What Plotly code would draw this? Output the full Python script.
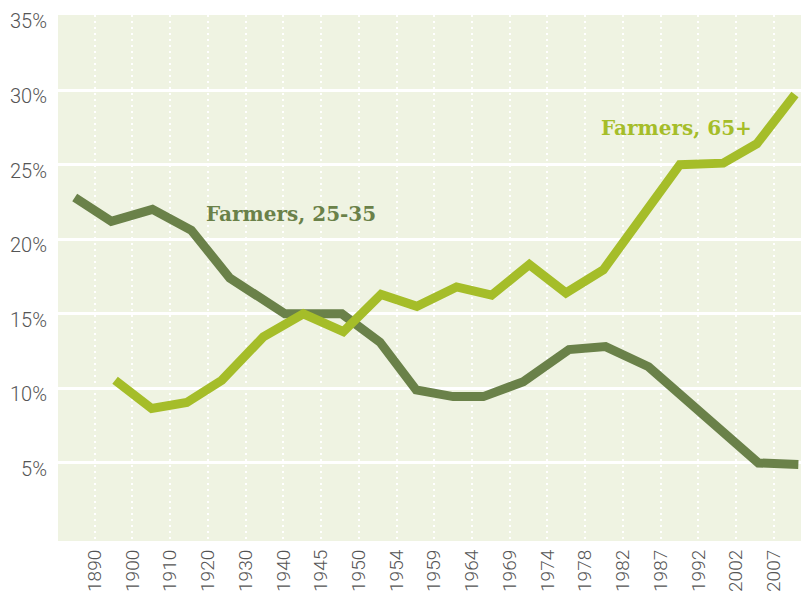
import plotly.graph_objects as go

# Category tick labels (evenly spaced on the x axis, index 0..18)
years = ["1890", "1900", "1910", "1920", "1930", "1940", "1945", "1950", "1954",
         "1959", "1964", "1969", "1974", "1978", "1982", "1987", "1992", "2002", "2007"]

# Farmers aged 25-35 (share %), x positions in category-index units
young_x = [-0.53, 0.44, 1.53, 2.56, 3.58, 5.04, 6.55, 7.56, 8.52, 9.50, 10.30,
           11.36, 12.57, 13.54, 14.68, 17.59, 18.65]
young_y = [22.8, 21.2, 22.0, 20.6, 17.4, 15.0, 15.0, 13.1, 9.9, 9.45, 9.45,
           10.45, 12.6, 12.8, 11.45, 5.0, 4.9]

# Farmers aged 65+ (share %)
old_x = [0.54, 1.51, 2.44, 3.37, 4.47, 5.53, 6.59, 7.59, 8.54, 9.59, 10.52,
         11.52, 12.49, 13.48, 15.51, 16.66, 17.55, 18.56]
old_y = [10.55, 8.65, 9.05, 10.55, 13.45, 15.0, 13.8, 16.3, 15.5, 16.8, 16.25,
         18.3, 16.4, 17.95, 25.0, 25.1, 26.4, 29.7]

y_ticks = [5, 10, 15, 20, 25, 30, 35]
y_ticktext = [f"{v}%" for v in y_ticks]

DARK = "#6a8149"
LIGHT = "#a5bd29"
BG = "#eff3e2"
YTICKFONT = dict(family="Roboto, sans-serif", size=20, color="#555555", weight=300)
XTICKFONT = dict(family="Roboto, sans-serif", size=19, color="#555555", weight=300)

fig = go.Figure()
fig.add_trace(go.Scatter(x=young_x, y=young_y, mode="lines",
                         line=dict(color=DARK, width=9), hoverinfo="skip"))
fig.add_trace(go.Scatter(x=old_x, y=old_y, mode="lines",
                         line=dict(color=LIGHT, width=9), hoverinfo="skip"))

fig.add_annotation(x=5.2, y=21.7, text="<b>Farmers, 25-35</b>", showarrow=False,
                   font=dict(family="DejaVu Serif, serif", size=20, color=DARK))
fig.add_annotation(x=15.42, y=27.45, text="<b>Farmers, 65+</b>", showarrow=False,
                   font=dict(family="DejaVu Serif, serif", size=20, color=LIGHT))

fig.update_layout(
    width=801, height=594,
    margin=dict(l=58, r=0, t=15, b=53),
    paper_bgcolor="white", plot_bgcolor=BG,
    showlegend=False,
    xaxis=dict(range=[-0.973, 18.72], tickmode="array",
               tickvals=list(range(len(years))), ticktext=years,
               tickangle=-90, tickfont=XTICKFONT,
               showgrid=True, gridcolor="white", gridwidth=2, griddash="2px,4px",
               zeroline=False, showline=False, ticks="", automargin=False,
               ticklabelstandoff=4, ticklabeloverflow="allow"),
    yaxis=dict(range=[-0.23, 35.03], tickmode="array",
               tickvals=y_ticks, ticktext=y_ticktext, tickfont=YTICKFONT,
               showgrid=True, gridcolor="white", gridwidth=3,
               zeroline=False, showline=False, ticks="", automargin=False,
               ticklabelshift=6, ticklabelstandoff=10, ticklabeloverflow="allow"),
)

fig.write_html("out.html", config={"displayModeBar": False},
               post_script="document.body.style.margin='0';")
